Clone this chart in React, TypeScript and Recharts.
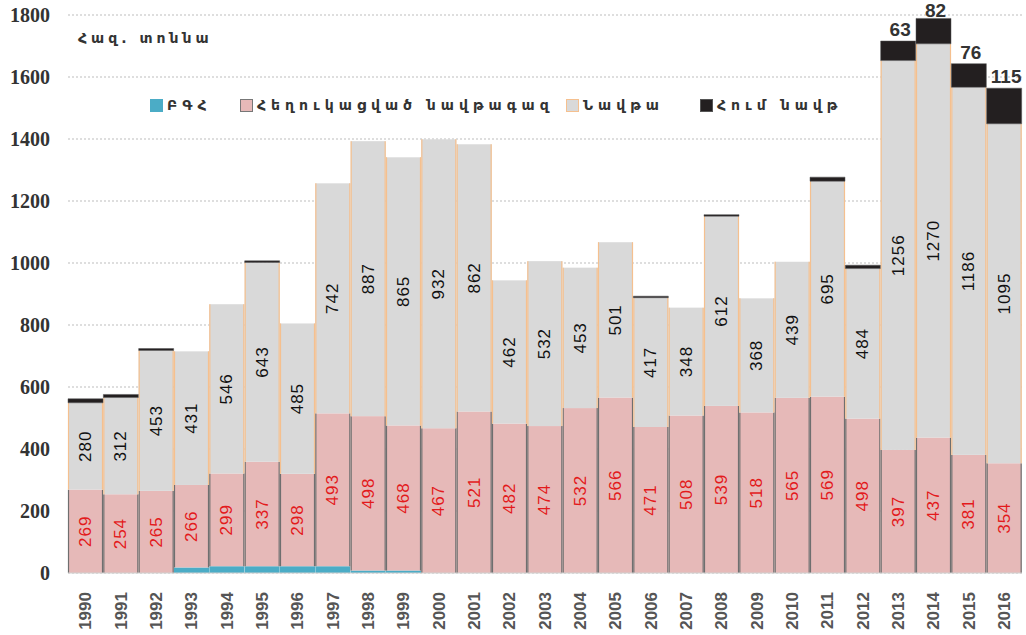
import { BarChart, Bar, XAxis, YAxis, CartesianGrid, LabelList } from 'recharts';

const years = [
  '1990', '1991', '1992', '1993', '1994', '1995', '1996', '1997', '1998', '1999',
  '2000', '2001', '2002', '2003', '2004', '2005', '2006', '2007', '2008', '2009',
  '2010', '2011', '2012', '2013', '2014', '2015', '2016',
];
// ԲԳՀ
const bgh = [0, 0, 0, 18, 22, 22, 22, 22, 8, 8, 0, 0, 0, 0, 0, 0, 0, 0, 0, 0, 0, 0, 0, 0, 0, 0, 0];
// Հեղուկացված նավթագազ
const lpg = [269, 254, 265, 266, 299, 337, 298, 493, 498, 468, 467, 521, 482, 474, 532, 566, 471, 508, 539, 518, 565, 569, 498, 397, 437, 381, 354];
// Նավթա
const naphtha = [280, 312, 453, 431, 546, 643, 485, 742, 887, 865, 932, 862, 462, 532, 453, 501, 417, 348, 612, 368, 439, 695, 484, 1256, 1270, 1186, 1095];
// Հում նավթ
const crude = [13, 10, 6, 0, 0, 5, 0, 0, 0, 0, 0, 0, 0, 0, 0, 0, 5, 0, 5, 0, 0, 13, 11, 63, 82, 76, 115];
const yTicks = [0, 200, 400, 600, 800, 1000, 1200, 1400, 1600, 1800];

const data = years.map((year, i) => ({
  year,
  bgh: bgh[i],
  lpg: lpg[i],
  naphtha: naphtha[i],
  crude: crude[i],
}));

const legendItems = [
  { label: 'ԲԳՀ', color: '#4bacc6', border: '#4bacc6', left: 150 },
  { label: 'Հեղուկացված նավթագազ', color: '#e6b9b8', border: '#777', left: 240 },
  { label: 'Նավթա', color: '#d9d9d9', border: '#f5c08f', left: 566 },
  { label: 'Հում նավթ', color: '#231f20', border: '#555', left: 700 },
];

const SideRect = (fill: string, side: string) => (props: any) => {
  const { x, y, width, height } = props;
  if (!height || height <= 0) return <g />;
  return (
    <g>
      <rect x={x} y={y} width={width} height={height} fill={fill} />
      <line x1={x + 0.5} y1={y} x2={x + 0.5} y2={y + height} stroke={side} strokeWidth={1.2} />
      <line x1={x + width - 0.5} y1={y} x2={x + width - 0.5} y2={y + height} stroke={side} strokeWidth={1.2} />
    </g>
  );
};

const rotatedLabel = (color: string) => (props: any) => {
  const { x, y, width, height, value } = props;
  const cx = x + width / 2;
  const cy = y + height / 2;
  return (
    <text
      x={cx}
      y={cy}
      transform={`rotate(-90 ${cx} ${cy})`}
      textAnchor="middle"
      dominantBaseline="central"
      fill={color}
      fontSize={17}
      letterSpacing={1}
      fontFamily="Liberation Sans, Arial, sans-serif"
    >
      {value}
    </text>
  );
};

const topLabel = (props: any) => {
  const { x, y, width, value } = props;
  if (value < 50) return <g />;
  return (
    <text
      x={x + width / 2 + 2}
      y={Math.max(y - 5, 17)}
      textAnchor="middle"
      fill="#333"
      fontSize={19}
      fontWeight="bold"
      fontFamily="Liberation Sans Narrow, Liberation Sans, sans-serif"
    >
      {value}
    </text>
  );
};

const YearTick = (props: any) => {
  const { x, y, payload } = props;
  return (
    <text
      x={x}
      y={y + 11}
      transform={`rotate(-90 ${x} ${y + 11})`}
      textAnchor="end"
      dominantBaseline="central"
      fill="#555"
      fontSize={17}
      fontWeight="bold"
      fontFamily="Liberation Sans, Arial, sans-serif"
    >
      {payload.value}
    </text>
  );
};

export default function App() {
  return (
    <div style={{ position: 'absolute', left: 0, top: 0, width: 1026, height: 635, background: '#fff' }}>
      <BarChart
        width={1026}
        height={635}
        data={data}
        margin={{ top: 15, right: 4, bottom: 0, left: 0 }}
        barCategoryGap={0}
      >
        <CartesianGrid vertical={false} stroke="#bdbdbd" strokeDasharray="2 2" />
        <XAxis
          dataKey="year"
          height={62}
          interval={0}
          tick={<YearTick />}
          tickLine={false}
          axisLine={{ stroke: '#d0d0d0' }}
        />
        <YAxis
          width={68}
          domain={[0, 1800]}
          ticks={yTicks}
          tickLine={false}
          axisLine={false}
          tickMargin={12}
          tick={{ fill: '#333', fontSize: 20, fontWeight: 'bold', fontFamily: 'Liberation Serif, serif' }}
        />
        <Bar dataKey="bgh" stackId="a" fill="#4bacc6" isAnimationActive={false} />
        <Bar dataKey="lpg" stackId="a" fill="#e6b9b8" shape={SideRect('#e6b9b8', '#6f6f6f')} isAnimationActive={false}>
          <LabelList dataKey="lpg" content={rotatedLabel('#e31a1c')} />
        </Bar>
        <Bar dataKey="naphtha" stackId="a" fill="#d9d9d9" shape={SideRect('#d9d9d9', '#f5c08f')} isAnimationActive={false}>
          <LabelList dataKey="naphtha" content={rotatedLabel('#111')} />
        </Bar>
        <Bar dataKey="crude" stackId="a" fill="#231f20" stroke="#555" strokeWidth={0.5} isAnimationActive={false}>
          <LabelList dataKey="crude" content={topLabel} />
        </Bar>
      </BarChart>
      <div
        style={{
          position: 'absolute',
          left: 78,
          top: 30,
          fontFamily: 'DejaVu Sans, sans-serif',
          fontSize: 14,
          fontWeight: 'bold',
          letterSpacing: 4,
          color: '#333',
        }}
      >
        Հազ. տոննա
      </div>
      {legendItems.map((item) => (
        <div
          key={item.label}
          style={{
            position: 'absolute',
            left: item.left,
            top: 97,
            display: 'flex',
            alignItems: 'center',
            fontFamily: 'DejaVu Sans, sans-serif',
            fontSize: 14,
            fontWeight: 'bold',
            letterSpacing: 5,
            color: '#333',
            whiteSpace: 'nowrap',
          }}
        >
          <span
            style={{
              display: 'inline-block',
              width: 11,
              height: 11,
              background: item.color,
              border: `1px solid ${item.border}`,
              marginRight: 4,
            }}
          />
          {item.label}
        </div>
      ))}
    </div>
  );
}
